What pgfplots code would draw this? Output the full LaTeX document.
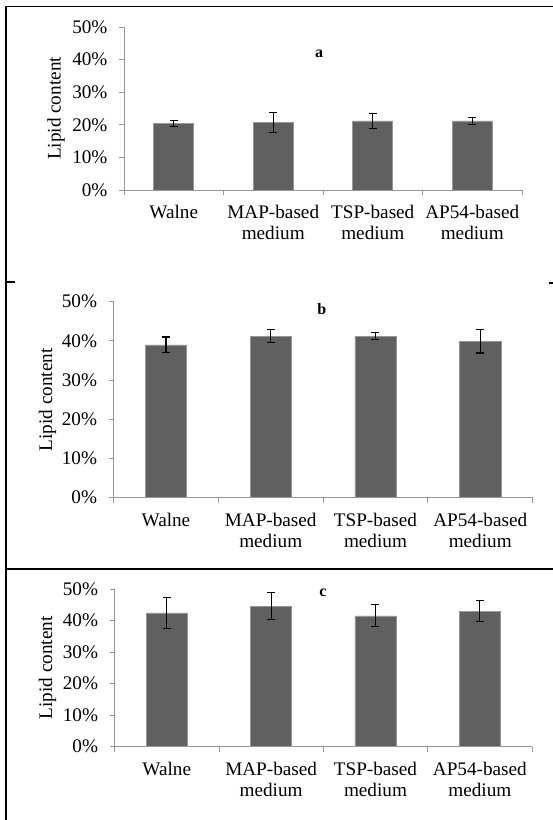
\documentclass[border=0pt]{standalone}
\usepackage{fontspec}
\setmainfont{Liberation Serif}
\usepackage{pgfplots}
\pgfplotsset{compat=1.18}
\definecolor{barfill}{RGB}{96,96,96}
\definecolor{baredge}{RGB}{150,150,150}
\definecolor{axgray}{RGB}{150,150,150}
\newcommand{\bigf}{\fontsize{19.2}{21}\selectfont}
\pgfplotsset{
  panel/.style={
    scale only axis, anchor=south west,
    xmin=0.5, xmax=4.5, ymin=0, ymax=50,
    enlargelimits=false,
    axis x line*=bottom, axis y line*=left,
    axis line style={draw=axgray, line width=0.8pt},
    every tick/.style={draw=axgray, line width=0.8pt},
    major tick length=5pt,
    tick align=outside,
    xtick={0.5,1.5,2.5,3.5,4.5},
    x tick label as interval,
    xticklabels={Walne, {MAP-based\\medium}, {TSP-based\\medium}, {AP54-based\\medium}},
    xticklabel style={align=center, font=\bigf, yshift=-7pt},
    ytick={0,10,20,30,40,50},
    yticklabel={\pgfmathprintnumber{\tick}\%},
    yticklabel style={font=\bigf, xshift=-8pt},
    /pgf/number format/assume math mode=true,
    ylabel={Lipid content},
    ylabel style={font=\bigf},
    error bars/y dir=both, error bars/y explicit,
    error bars/error bar style={line width=1.1pt, black},
    error bars/error mark options={rotate=90, mark size=4pt, line width=1.1pt, black},
  },
  bars/.style={ybar, fill=barfill, draw=baredge, line width=0.6pt},
}
\begin{document}
\begin{tikzpicture}[x=1pt,y=1pt]
\useasboundingbox (0,0) rectangle (553,820);
% frames
\draw[line width=1.3pt] (6,813.5) -- (553,813.5);
\draw[line width=1.3pt] (6,814) -- (6,0);
\draw[line width=1.3pt] (6,538) -- (15,538);
\draw[line width=1.3pt] (549,537) -- (553,537);
\draw[line width=1.3pt] (6,251) -- (553,251);

% panel a
\begin{axis}[panel, at={(124pt,630pt)}, width=398pt, height=163pt, bar width=40pt,
  every axis y label/.style={at={(axis description cs:-0.171,0.5)}, rotate=90, anchor=center, font=\bigf}]
\addplot[bars] coordinates {(1,20.4) +- (0,0.8) (2,20.7) +- (0,3.0) (3,21.2) +- (0,2.3) (4,21.2) +- (0,1.1)};
\end{axis}
\node[font=\bfseries\fontsize{16}{16}\selectfont] at (319,766) {a};

% panel b
\begin{axis}[panel, at={(113.6pt,322.3pt)}, width=419pt, height=196pt, bar width=41.3pt,
  every axis y label/.style={at={(axis description cs:-0.1575,0.5)}, rotate=90, anchor=center, font=\bigf}]
\addplot[bars] coordinates {(1,39.0) +- (0,2.0) (2,41.2) +- (0,1.7) (3,41.2) +- (0,0.9) (4,39.9) +- (0,3.0)};
\end{axis}
\node[font=\bfseries\fontsize{16}{16}\selectfont] at (321.7,511) {b};

% panel c
\begin{axis}[panel, at={(114.6pt,73.3pt)}, width=417.4pt, height=157.7pt, bar width=41pt,
  every axis y label/.style={at={(axis description cs:-0.1605,0.5)}, rotate=90, anchor=center, font=\bigf}]
\addplot[bars] coordinates {(1,42.4) +- (0,4.9) (2,44.6) +- (0,4.4) (3,41.5) +- (0,3.5) (4,43.0) +- (0,3.3)};
\end{axis}
\node[font=\bfseries\fontsize{16}{16}\selectfont] at (322.8,227.3) {c};
\end{tikzpicture}
\end{document}
